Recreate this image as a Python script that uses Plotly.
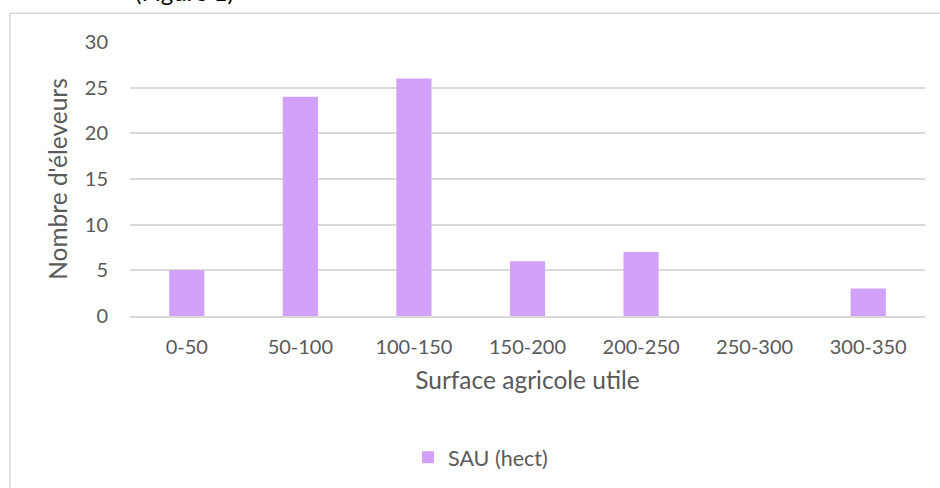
import plotly.graph_objects as go

categories = ["0-50", "50-100", "100-150", "150-200", "200-250", "250-300", "300-350"]
values = [5, 24, 26, 6, 7, 0, 3]
series_name = "SAU (hect)"
x_title = "Surface agricole utile"
y_title = "Nombre d'éleveurs"
y_ticks = [0, 5, 10, 15, 20, 25, 30]
top_text = "(Figure 1)"

W, H = 940, 488
L, R, T, B = 130, 15, 42, 170.5

FONT = "Lato, Calibri, sans-serif"
TXT = "#595959"
GRID = "#d9d9d9"

fig = go.Figure()
fig.add_trace(go.Bar(
    x=categories, y=values, name=series_name,
    marker=dict(color="#D2A1FC", line=dict(width=0)),
    width=0.31,
))

pw = W - L - R
ph = H - T - B

def px_x(x):
    return (x - L) / pw

def px_y(y):
    return (H - B - y) / ph

fig.update_layout(
    width=W, height=H,
    margin=dict(l=L, r=R, t=T, b=B),
    paper_bgcolor="white", plot_bgcolor="white",
    font=dict(family=FONT, size=20, color=TXT),
    showlegend=True,
    legend=dict(orientation="h", x=px_x(408), xanchor="left", y=px_y(458), yanchor="middle",
                font=dict(size=21.5, color=TXT), itemwidth=30, bgcolor="rgba(0,0,0,0)"),
    xaxis=dict(
        showgrid=False, showline=True, linecolor=GRID, linewidth=1.5,
        ticks="", tickfont=dict(size=20, color=TXT), ticklabelstandoff=12,
        title=dict(text=x_title, font=dict(size=24.5, color=TXT), standoff=15),
    ),
    yaxis=dict(
        range=[0, 30], tickvals=y_ticks, showgrid=True, gridcolor=GRID, gridwidth=1.5,
        zeroline=False, showline=False, ticks="", ticklabelstandoff=21,
        tickfont=dict(size=20, color=TXT),
        title=dict(text=y_title, font=dict(size=24.5, color=TXT), standoff=10),
    ),
    shapes=[
        dict(type="line", xref="paper", yref="paper", x0=px_x(10), x1=px_x(10), y0=px_y(13), y1=px_y(H + 5),
             line=dict(color=GRID, width=1.5)),
        dict(type="line", xref="paper", yref="paper", x0=px_x(10), x1=px_x(W + 5), y0=px_y(13), y1=px_y(13),
             line=dict(color=GRID, width=1.5)),
    ],
    annotations=[
        dict(text=top_text, xref="paper", yref="paper", x=px_x(184), y=px_y(-9), xanchor="center",
             yanchor="middle", showarrow=False, font=dict(size=24, color="#000000")),
    ],
)

fig.write_html("out.html", config={"displayModeBar": False},
               post_script="document.body.style.margin='0';")
